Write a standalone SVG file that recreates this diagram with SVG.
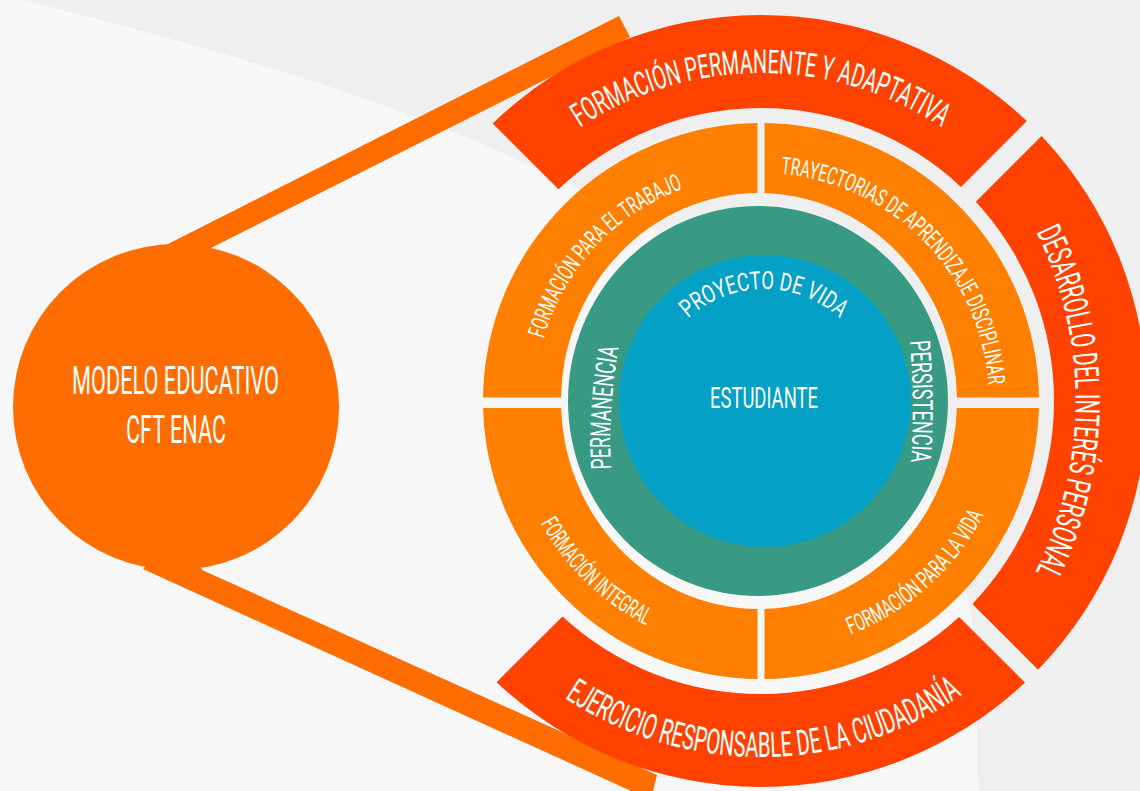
<svg xmlns="http://www.w3.org/2000/svg" xmlns:xlink="http://www.w3.org/1999/xlink" width="1140" height="791" viewBox="0 0 1140 791">
<style>
.t{fill:#ffffff;font-family:Roboto,"Liberation Sans","DejaVu Sans",sans-serif;font-weight:400;}
.red{fill:#ff4200;}
.org{fill:#ff8000;}
.band{fill:#ff6d00;}
</style>
<defs>
<path id="ring" fill-rule="evenodd" d="M 483 401 A 278 278 0 1 0 1039 401 A 278 278 0 1 0 483 401 Z M 561 401 A 198 208 0 1 0 957 401 A 198 208 0 1 0 561 401 Z"/>
<clipPath id="cTL"><rect x="470" y="110" width="287.5" height="287.5"/></clipPath>
<clipPath id="cTR"><rect x="764.5" y="110" width="290" height="287.5"/></clipPath>
<clipPath id="cBL"><rect x="470" y="408" width="287.5" height="290"/></clipPath>
<clipPath id="cBR"><rect x="764.5" y="408" width="290" height="290"/></clipPath>
<path id="p-proyecto" d="M 688.3 318.4 A 112 112 0 0 1 839.7 318.4"/>
<path id="p-permanencia" d="M 611 469 Q 608 407 619 346"/>
<path id="p-persistencia" d="M 910 341 Q 915 402 911 463"/>
<path id="p-trabajo" d="M 543.7 338.7 A 226 226 0 0 1 683.7 188.6"/>
<path id="p-trayectorias" d="M 780.9 173.9 A 228 228 0 0 1 988.4 385.1"/>
<path id="p-integral" d="M 540.6 523.2 A 252 252 0 0 0 646.6 625.5"/>
<path id="p-vida" d="M 850.6 634.4 A 250 250 0 0 0 983.8 514.5"/>
<path id="p-permanente" d="M 580 127.5 A 328 328 0 0 1 942 127.5"/>
<path id="p-desarrollo" d="M 1036.3 232 A 383 383 0 0 1 1036.3 570"/>
<path id="p-ejercicio" d="M 564.5 697.9 A 356 356 0 0 0 962.6 694.4"/>
</defs>

<g id="background">
<rect x="0" y="0" width="1140" height="791" fill="#efefef"/>
<path d="M 0 0 L 23 0 C 300 70 540 140 760 300 C 900 400 960 520 975 640 L 978 791 L 0 791 Z" fill="#f7f7f7"/>
</g>

<g id="connectors">
<polygon class="band" points="166,245 619,16 630,37 211,248 190,300"/>
<polygon class="band" points="143,569 190,520 202,570 657,775 652,795 640,795"/>
</g>

<g id="node-modelo">
<circle cx="176" cy="407" r="163" fill="#ff6d00"/>
<text class="t" x="72" y="394" font-size="38" textLength="207" lengthAdjust="spacingAndGlyphs">MODELO EDUCATIVO</text>
<text class="t" x="126" y="443" font-size="38" textLength="100" lengthAdjust="spacingAndGlyphs">CFT ENAC</text>
</g>

<g id="node-formacion-permanente">
<path class="red" d="M 492.7 123.5 A 386 386 0 0 1 1026.8 121.1 L 961.0 186.9 A 293 293 0 0 0 558.5 189.3 Z"/>
<text class="t" font-size="33"><textPath xlink:href="#p-permanente" href="#p-permanente" textLength="383" lengthAdjust="spacingAndGlyphs">FORMACIÓN PERMANENTE Y ADAPTATIVA</textPath></text>
</g>

<g id="node-desarrollo">
<path class="red" d="M 1041.6 136.0 A 386 386 0 0 1 1038.1 669.7 L 972.4 603.9 A 293 293 0 0 0 975.8 201.7 Z"/>
<text class="t" font-size="34"><textPath xlink:href="#p-desarrollo" href="#p-desarrollo" textLength="352" lengthAdjust="spacingAndGlyphs">DESARROLLO DEL INTERÉS PERSONAL</textPath></text>
</g>

<g id="node-ejercicio">
<path class="red" d="M 1025.0 682.6 A 386 386 0 0 1 496.6 682.2 L 562.5 616.5 A 293 293 0 0 0 959.1 616.9 Z"/>
<text class="t" font-size="35"><textPath xlink:href="#p-ejercicio" href="#p-ejercicio" textLength="422" lengthAdjust="spacingAndGlyphs">EJERCICIO RESPONSABLE DE LA CIUDADANÍA</textPath></text>
</g>

<g id="node-trabajo">
<use href="#ring" xlink:href="#ring" class="org" clip-path="url(#cTL)"/>
<text class="t" font-size="24"><textPath xlink:href="#p-trabajo" href="#p-trabajo" textLength="212" lengthAdjust="spacingAndGlyphs">FORMACIÓN PARA EL TRABAJO</textPath></text>
</g>

<g id="node-trayectorias">
<use href="#ring" xlink:href="#ring" class="org" clip-path="url(#cTR)"/>
<text class="t" font-size="24"><textPath xlink:href="#p-trayectorias" href="#p-trayectorias" textLength="322" lengthAdjust="spacingAndGlyphs">TRAYECTORIAS DE APRENDIZAJE DISCIPLINAR</textPath></text>
</g>

<g id="node-integral">
<use href="#ring" xlink:href="#ring" class="org" clip-path="url(#cBL)"/>
<text class="t" font-size="24"><textPath xlink:href="#p-integral" href="#p-integral" textLength="149" lengthAdjust="spacingAndGlyphs">FORMACIÓN INTEGRAL</textPath></text>
</g>

<g id="node-vida">
<use href="#ring" xlink:href="#ring" class="org" clip-path="url(#cBR)"/>
<text class="t" font-size="24"><textPath xlink:href="#p-vida" href="#p-vida" textLength="183" lengthAdjust="spacingAndGlyphs">FORMACIÓN PARA LA VIDA</textPath></text>
</g>

<g id="node-teal">
<ellipse cx="758" cy="401" rx="190" ry="195" fill="#389a82"/>
<text class="t" font-size="28"><textPath xlink:href="#p-permanencia" href="#p-permanencia" textLength="122" lengthAdjust="spacingAndGlyphs">PERMANENCIA</textPath></text>
<text class="t" font-size="28"><textPath xlink:href="#p-persistencia" href="#p-persistencia" textLength="121" lengthAdjust="spacingAndGlyphs">PERSISTENCIA</textPath></text>
</g>

<g id="node-estudiante">
<circle cx="765" cy="401" r="146" fill="#04a0c5"/>
<text class="t" font-size="25"><textPath xlink:href="#p-proyecto" href="#p-proyecto" textLength="166" lengthAdjust="spacingAndGlyphs">PROYECTO DE VIDA</textPath></text>
<text class="t" x="710" y="408" font-size="30" textLength="108" lengthAdjust="spacingAndGlyphs">ESTUDIANTE</text>
</g>
</svg>
